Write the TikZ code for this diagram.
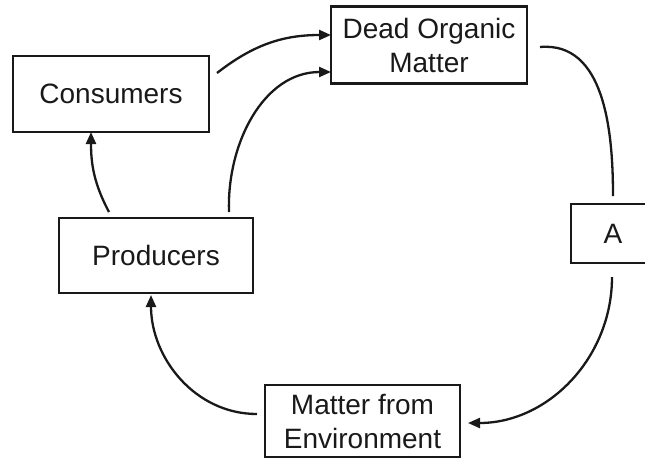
\documentclass[tikz,border=0pt]{standalone}
\usepackage{fontspec}
\setmainfont{Liberation Sans}
\usetikzlibrary{arrows.meta}
\begin{document}
\begin{tikzpicture}[x=1pt,y=1pt,
  box/.style={draw=black!90, line width=2.8pt, rectangle, inner sep=0pt, align=center,
    font=\fontsize{28}{34}\selectfont, text=black!90},
  flow/.style={draw=black!90, line width=2.3pt, -{Triangle[length=12pt,width=10pt]}},
  plain/.style={draw=black!90, line width=2.3pt}]
\useasboundingbox (0,0) rectangle (645,-459);
\begin{scope}
\clip (0,0) rectangle (645,-459);
\node[box, minimum width=196pt, minimum height=76pt] (cons) at (111,-94) {Consumers};
\node[box, minimum width=196pt, minimum height=77pt] (dom) at (429,-45) {Dead Organic\\Matter};
\node[box, minimum width=84pt, minimum height=59pt] (a) at (613,-233.5) {A};
\node[box, minimum width=194pt, minimum height=75pt] (prod) at (156,-255.5) {Producers};
\node[box, minimum width=195pt, minimum height=72pt] (mfe) at (362.5,-421) {Matter from\\Environment};
\end{scope}
\coordinate (c1s) at (217,-73);
\coordinate (c1e) at (331,-35);
\coordinate (c2s) at (229,-212);
\coordinate (c2e) at (331,-72);
\coordinate (c3s) at (109,-212);
\coordinate (c3e) at (91,-132);
\coordinate (c4s) at (540,-47);
\coordinate (c4e) at (613,-196);
\coordinate (c5s) at (612,-277);
\coordinate (c5e) at (468,-423);
\coordinate (c6s) at (257,-414);
\coordinate (c6e) at (151,-295);
\path[flow] (c1s) to[out=38,in=180] (c1e);
\path[flow] (c2s) to[out=92,in=180] (c2e);
\path[flow] (c3s) to[out=118,in=-90] (c3e);
\path[plain] (c4s) to[out=5,in=90] (c4e);
\path[flow] (c5s) to[out=-90,in=0] (c5e);
\path[flow] (c6s) to[out=180,in=-90] (c6e);
\end{tikzpicture}
\end{document}
